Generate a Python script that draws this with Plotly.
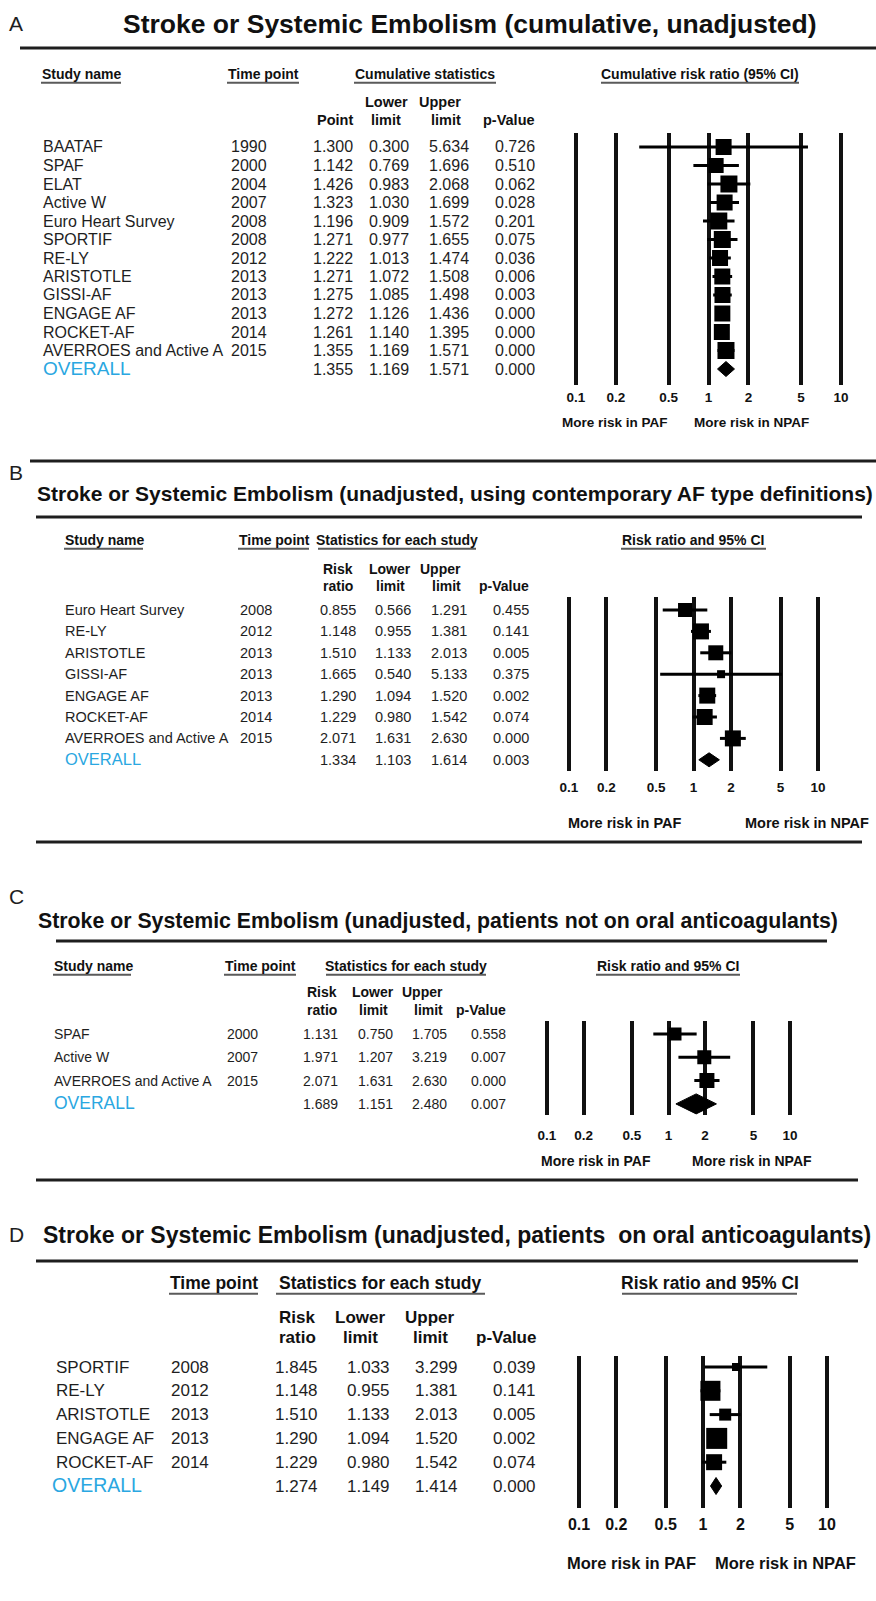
import plotly.graph_objects as go

W, H = 876, 1601

SANS = "Liberation Sans, Arial, sans-serif"
INK = "#1e1e1e"
BLUE = "#2aa7e1"

# ---------------- data ----------------
# A: cumulative, unadjusted
a_names = ["BAATAF", "SPAF", "ELAT", "Active W", "Euro Heart Survey", "SPORTIF", "RE-LY",
           "ARISTOTLE", "GISSI-AF", "ENGAGE AF", "ROCKET-AF", "AVERROES and Active A"]
a_years = [1990, 2000, 2004, 2007, 2008, 2008, 2012, 2013, 2013, 2013, 2014, 2015]
a_point = [1.300, 1.142, 1.426, 1.323, 1.196, 1.271, 1.222, 1.271, 1.275, 1.272, 1.261, 1.355]
a_lower = [0.300, 0.769, 0.983, 1.030, 0.909, 0.977, 1.013, 1.072, 1.085, 1.126, 1.140, 1.169]
a_upper = [5.634, 1.696, 2.068, 1.699, 1.572, 1.655, 1.474, 1.508, 1.498, 1.436, 1.395, 1.571]
a_pval = [0.726, 0.510, 0.062, 0.028, 0.201, 0.075, 0.036, 0.006, 0.003, 0.000, 0.000, 0.000]
a_overall = [1.355, 1.169, 1.571, 0.000]

# B: unadjusted, contemporary AF type definitions
b_names = ["Euro Heart Survey", "RE-LY", "ARISTOTLE", "GISSI-AF", "ENGAGE AF", "ROCKET-AF",
           "AVERROES and Active A"]
b_years = [2008, 2012, 2013, 2013, 2013, 2014, 2015]
b_ratio = [0.855, 1.148, 1.510, 1.665, 1.290, 1.229, 2.071]
b_lower = [0.566, 0.955, 1.133, 0.540, 1.094, 0.980, 1.631]
b_upper = [1.291, 1.381, 2.013, 5.133, 1.520, 1.542, 2.630]
b_pval = [0.455, 0.141, 0.005, 0.375, 0.002, 0.074, 0.000]
b_overall = [1.334, 1.103, 1.614, 0.003]

# C: patients not on oral anticoagulants
c_names = ["SPAF", "Active W", "AVERROES and Active A"]
c_years = [2000, 2007, 2015]
c_ratio = [1.131, 1.971, 2.071]
c_lower = [0.750, 1.207, 1.631]
c_upper = [1.705, 3.219, 2.630]
c_pval = [0.558, 0.007, 0.000]
c_overall = [1.689, 1.151, 2.480, 0.007]

# D: patients on oral anticoagulants
d_names = ["SPORTIF", "RE-LY", "ARISTOTLE", "ENGAGE AF", "ROCKET-AF"]
d_years = [2008, 2012, 2013, 2013, 2014]
d_ratio = [1.845, 1.148, 1.510, 1.290, 1.229]
d_lower = [1.033, 0.955, 1.133, 1.094, 0.980]
d_upper = [3.299, 1.381, 2.013, 1.520, 1.542]
d_pval = [0.039, 0.141, 0.005, 0.002, 0.074]
d_overall = [1.274, 1.149, 1.414, 0.000]

axis_ticks = [0.1, 0.2, 0.5, 1, 2, 5, 10]
axis_ticklabels = ["0.1", "0.2", "0.5", "1", "2", "5", "10"]

# square sizes (px) reflecting study weight
a_box = [16, 15, 17, 16, 17, 17, 16, 16, 16, 16, 16, 17]
b_box = [14, 16, 15, 8, 16, 16, 16]
c_box = [13, 14, 15]
d_box = [8, 20, 12, 21, 16]

# ---------------- helpers ----------------
fig = go.Figure()
annotations = []
shapes = []


def fx(x):
    return x / W


def fy(y):
    return 1 - y / H


def text(s, x, y, size, anchor="left", bold=False, color=INK, family=SANS):
    if bold:
        s = f"<b>{s}</b>"
    annotations.append(dict(text=s, x=fx(x), y=fy(y), xref="paper", yref="paper",
                            xanchor=anchor, yanchor="middle", showarrow=False,
                            borderpad=0, font=dict(size=size, color=color, family=family)))


def rule(x0, x1, y, width=3, color=INK):
    shapes.append(dict(type="line", xref="paper", yref="paper", x0=fx(x0), x1=fx(x1),
                       y0=fy(y), y1=fy(y), line=dict(color=color, width=width)))


def panel(idx, names, years, vals, lows, ups, pvals, overall, box, cfg):
    n = len(names)
    s, y0 = cfg["step"], cfg["row0"]
    fs = cfg["fs"]

    # panel letter, title and rules
    text(cfg["letter"], 8, cfg["letter_y"], 21)
    text(cfg["title"], cfg["title_x"], cfg["title_y"], cfg["title_fs"], anchor="center",
         bold=True, color="#111")
    for r in cfg["rules"]:
        rule(*r)

    # column headers (underlined)
    for label, x, anchor, (u0, u1) in cfg["heads"]:
        text(label, x, cfg["head_y"], cfg["head_fs"], anchor=anchor, bold=True, color="#111")
        rule(u0, u1, cfg["head_y"] + cfg["head_fs"] * 0.62, width=2, color="#5a5a5a")
    for label, x, anchor, y in cfg["subs"]:
        text(label, x, y, cfg["sub_fs"], anchor=anchor, bold=True, color="#111")

    # table rows
    for i in range(n):
        y = y0 + i * s
        text(names[i], cfg["name_x"], y, fs)
        text(str(years[i]), cfg["year_x"], y, fs, anchor=cfg["year_anchor"])
        for col, arr in zip(cfg["cols"], (vals, lows, ups, pvals)):
            text(f"{arr[i]:.3f}", col, y, fs, anchor="right")
    y = y0 + n * s
    text("OVERALL", cfg.get("overall_x", cfg["name_x"]), y - 1, cfg["fs_overall"], color=BLUE)
    for col, v in zip(cfg["cols"], overall):
        text(f"{v:.3f}", col, y, fs, anchor="right")

    # forest axes
    p01, p10, top, bot = cfg["p01"], cfg["p10"], cfg["top"], cfg["bot"]
    dec = (p10 - p01) / 2
    pad = 0.12
    xname = "xaxis" if idx == 1 else f"xaxis{idx}"
    yname = "yaxis" if idx == 1 else f"yaxis{idx}"
    xref = "x" if idx == 1 else f"x{idx}"
    yref = "y" if idx == 1 else f"y{idx}"
    tfs = cfg["tick_fs"]
    fig.layout[xname] = dict(
        type="log", range=[-1 - pad, 1 + pad],
        domain=[fx(p01 - pad * dec), fx(p10 + pad * dec)], anchor=yref,
        tickmode="array", tickvals=axis_ticks,
        ticktext=[f"<b>{t}</b>" for t in axis_ticklabels],
        showgrid=True, gridcolor="#111", gridwidth=3.5, zeroline=False, showline=False,
        ticks="", tickfont=dict(size=tfs, color="#111", family=SANS),
        ticklabelstandoff=int(round(max(0, cfg["tick_y"] - bot - tfs * 0.5 - 3))),
        fixedrange=True)
    fig.layout[yname] = dict(
        domain=[fy(bot), fy(top)], range=[(bot - y0) / s, (top - y0) / s], anchor=xref,
        visible=False, showgrid=False, zeroline=False, fixedrange=True)

    rows = list(range(n))
    xs, ys = [], []
    for i in rows:
        xs += [lows[i], ups[i], None]
        ys += [i, i, None]
    fig.add_trace(go.Scatter(x=xs, y=ys, mode="lines", line=dict(color="black", width=3),
                             xaxis=xref, yaxis=yref, hoverinfo="skip"))
    fig.add_trace(go.Scatter(x=vals, y=rows, mode="markers",
                             marker=dict(symbol="square", size=box, color="black",
                                         opacity=1, line=dict(width=0)),
                             xaxis=xref, yaxis=yref, hoverinfo="skip"))
    pt, lo, hi = overall[0], overall[1], overall[2]
    h = cfg["dia_half"] / s
    fig.add_trace(go.Scatter(x=[lo, pt, hi, pt, lo], y=[n, n - h, n, n + h, n],
                             mode="lines", fill="toself", fillcolor="black",
                             line=dict(color="black", width=1),
                             xaxis=xref, yaxis=yref, hoverinfo="skip"))

    # direction labels
    for label, x in (("More risk in PAF", cfg["paf_x"]), ("More risk in NPAF", cfg["npaf_x"])):
        text(label, x, cfg["risk_y"], cfg["risk_fs"], anchor="center", bold=True, color="#111")


# ---------------- panels ----------------
panel(1, a_names, a_years, a_point, a_lower, a_upper, a_pval, a_overall, a_box, dict(
    letter="A", letter_y=24,
    title="Stroke or Systemic Embolism (cumulative, unadjusted)", title_x=470, title_y=24,
    title_fs=26.5,
    rules=[(20, 876, 48)],
    head_y=74, head_fs=14,
    heads=[("Study name", 41, "left", (41, 121)), ("Time point", 227, "left", (227, 299)),
           ("Cumulative statistics", 425, "center", (354, 496)),
           ("Cumulative risk ratio (95% CI)", 700, "center", (601, 799))],
    sub_fs=14.5,
    subs=[("Lower", 386, "center", 102), ("Upper", 462, "right", 102),
          ("Point", 354, "right", 120), ("limit", 386, "center", 120),
          ("limit", 462, "right", 120), ("p-Value", 536, "right", 120)],
    row0=147, step=18.5, fs=16, fs_overall=19, name_x=42, year_x=268, year_anchor="right",
    cols=[354, 410, 470, 536],
    p01=576, p10=841, top=133, bot=385, tick_y=397, tick_fs=13.5, dia_half=7.5,
    risk_y=422, risk_fs=13.5, paf_x=615, npaf_x=751))

panel(2, b_names, b_years, b_ratio, b_lower, b_upper, b_pval, b_overall, b_box, dict(
    letter="B", letter_y=472,
    title="Stroke or Systemic Embolism (unadjusted, using contemporary AF type definitions)",
    title_x=455, title_y=493, title_fs=21,
    rules=[(30, 876, 461), (36, 862, 517), (36, 862, 842)],
    head_y=540, head_fs=14,
    heads=[("Study name", 64, "left", (64, 143)), ("Time point", 238, "left", (238, 309)),
           ("Statistics for each study", 397, "center", (318, 476)),
           ("Risk ratio and 95% CI", 693, "center", (621, 766))],
    sub_fs=14,
    subs=[("Risk", 338, "center", 569), ("Lower", 390, "center", 569),
          ("Upper", 462, "right", 569),
          ("ratio", 338, "center", 586), ("limit", 390, "center", 586),
          ("limit", 462, "right", 586), ("p-Value", 530, "right", 586)],
    row0=610, step=21.4, fs=14.5, fs_overall=16.5, name_x=64, year_x=273, year_anchor="right",
    cols=[357, 412, 468, 530],
    p01=569, p10=818, top=597, bot=771, tick_y=787, tick_fs=13.5, dia_half=7,
    risk_y=823, risk_fs=14.5, paf_x=624, npaf_x=807))

panel(3, c_names, c_years, c_ratio, c_lower, c_upper, c_pval, c_overall, c_box, dict(
    letter="C", letter_y=896,
    title="Stroke or Systemic Embolism (unadjusted, patients not on oral anticoagulants)",
    title_x=438, title_y=921, title_fs=21.3,
    rules=[(56, 827, 941), (36, 858, 1180)],
    head_y=966, head_fs=14,
    heads=[("Study name", 53, "left", (53, 131)), ("Time point", 224, "left", (224, 296)),
           ("Statistics for each study", 406, "center", (326, 486)),
           ("Risk ratio and 95% CI", 668, "center", (596, 740))],
    sub_fs=14,
    subs=[("Risk", 322, "center", 992), ("Lower", 373, "center", 992),
          ("Upper", 444, "right", 992),
          ("ratio", 322, "center", 1010), ("limit", 373, "center", 1010),
          ("limit", 444, "right", 1010), ("p-Value", 507, "right", 1010)],
    row0=1034, step=23.3, fs=14, fs_overall=17.5, name_x=53, year_x=259, year_anchor="right",
    cols=[339, 394, 448, 507],
    p01=547, p10=790, top=1021, bot=1115, tick_y=1135, tick_fs=13.5, dia_half=10,
    risk_y=1161, risk_fs=14, paf_x=596, npaf_x=752))

panel(4, d_names, d_years, d_ratio, d_lower, d_upper, d_pval, d_overall, d_box, dict(
    letter="D", letter_y=1234,
    title="Stroke or Systemic Embolism (unadjusted, patients\u00a0 on oral anticoagulants)",
    title_x=457, title_y=1235, title_fs=23,
    rules=[(36, 858, 1261)],
    head_y=1283, head_fs=17.5,
    heads=[("Time point", 169, "left", (169, 258)),
           ("Statistics for each study", 380, "center", (276, 485)),
           ("Risk ratio and 95% CI", 710, "center", (622, 797))],
    sub_fs=17,
    subs=[("Risk", 297, "center", 1317), ("Lower", 360, "center", 1317),
          ("Upper", 430, "center", 1317),
          ("ratio", 297, "center", 1337), ("limit", 360, "center", 1337),
          ("limit", 430, "center", 1337), ("p-Value", 537, "right", 1337)],
    row0=1367, step=23.8, fs=17, fs_overall=19.5, name_x=55, overall_x=51,
    year_x=170, year_anchor="left",
    cols=[319, 391, 459, 537],
    p01=579, p10=827, top=1356, bot=1508, tick_y=1524, tick_fs=16, dia_half=8.5,
    risk_y=1563, risk_fs=16.5, paf_x=631, npaf_x=785))

fig.update_layout(
    width=W, height=H, margin=dict(l=0, r=0, t=0, b=0),
    paper_bgcolor="white", plot_bgcolor="white", showlegend=False,
    annotations=annotations, shapes=shapes,
)

fig.write_html("out.html")
